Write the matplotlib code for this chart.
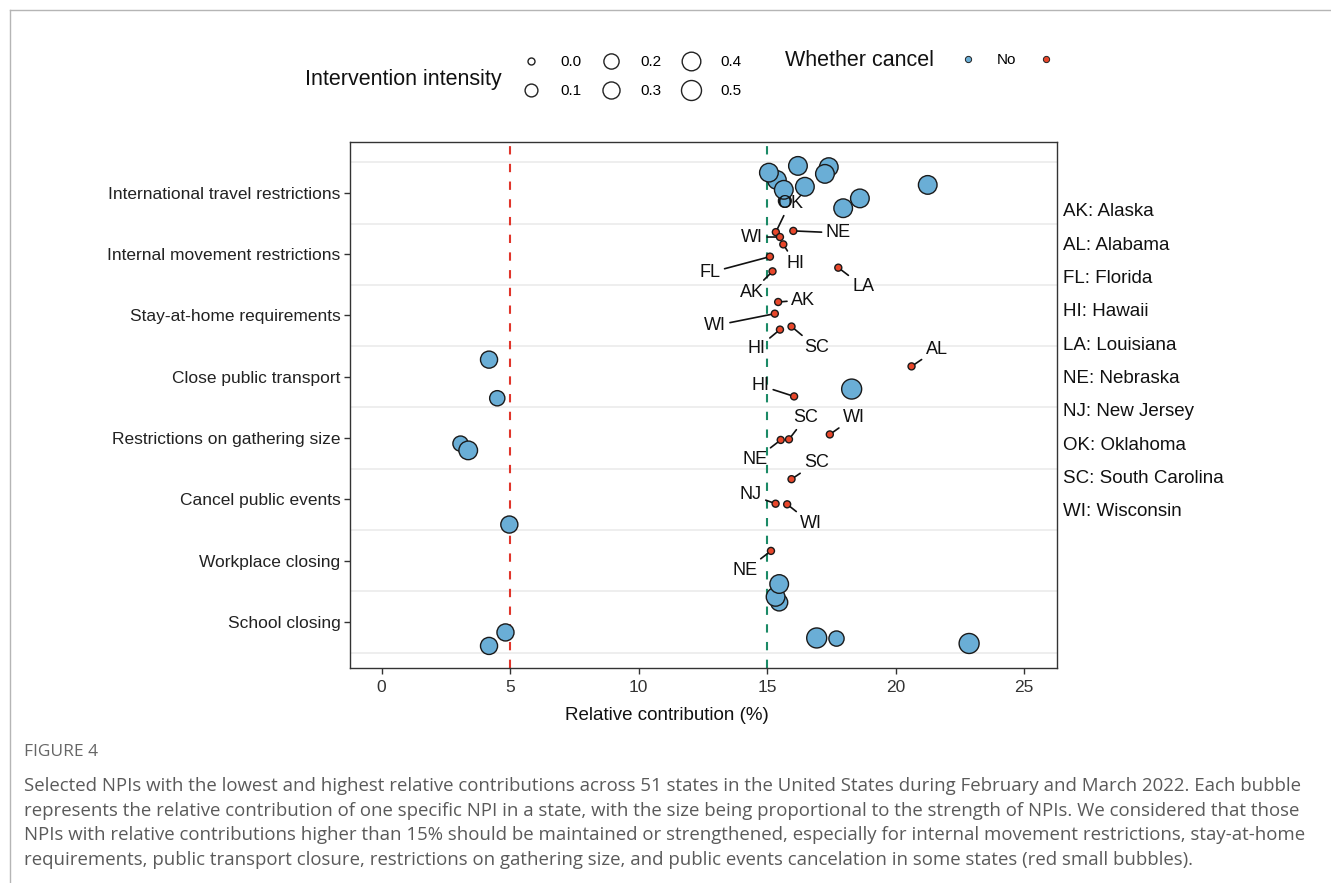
import numpy as np
import matplotlib.pyplot as plt
from matplotlib.lines import Line2D

plt.rcParams['font.family'] = ['Liberation Sans', 'DejaVu Sans']

npi_order = ["School closing", "Workplace closing", "Cancel public events",
             "Restrictions on gathering size", "Close public transport",
             "Stay-at-home requirements", "Internal movement restrictions",
             "International travel restrictions"]

# one bubble per state/NPI, drawn in this order
npi = (["International travel restrictions"] * 11 + ["Internal movement restrictions"] * 7
       + ["Stay-at-home requirements"] * 4 + ["Close public transport"] * 5
       + ["Restrictions on gathering size"] * 5 + ["Cancel public events"] * 4
       + ["Workplace closing"] * 1 + ["School closing"] * 8)
contrib = [15.38, 15.69, 15.07, 15.65, 16.20, 16.47, 17.40, 17.25, 18.61, 17.96, 21.25,
           15.34, 15.50, 15.63, 16.02, 15.11, 15.21, 17.77,
           15.43, 15.30, 15.50, 15.95,
           4.18, 4.50, 18.29, 20.62, 16.05,
           3.07, 3.37, 15.53, 15.85, 17.44,
           4.97, 15.95, 15.33, 15.78,
           15.15,
           15.47, 15.33, 15.47, 16.93, 17.70, 22.86, 4.82, 4.18]
jitter = [0.21, -0.13, 0.33, 0.05, 0.44, 0.10, 0.42, 0.31, -0.09, -0.25, 0.13,
          0.36, 0.28, 0.16, 0.38, -0.04, -0.28, -0.22,
          0.22, 0.03, -0.23, -0.18,
          0.28, -0.35, -0.20, 0.17, -0.32,
          -0.09, -0.20, -0.03, -0.02, 0.06,
          -0.41, 0.33, -0.07, -0.08,
          0.16,
          0.32, 0.41, 0.62, -0.26, -0.27, -0.35, -0.17, -0.39]
intensity = [0.4, 0.1, 0.4, 0.4, 0.4, 0.4, 0.4, 0.4, 0.4, 0.4, 0.4,
             0.0, 0.0, 0.0, 0.0, 0.0, 0.0, 0.0,
             0.0, 0.0, 0.0, 0.0,
             0.3, 0.2, 0.5, 0.0, 0.0,
             0.2, 0.4, 0.0, 0.0, 0.0,
             0.3, 0.0, 0.0, 0.0,
             0.0,
             0.3, 0.4, 0.4, 0.5, 0.2, 0.5, 0.3, 0.3]
cancel = (["No"] * 11 + ["Yes"] * 7 + ["Yes"] * 4 + ["No"] * 3 + ["Yes"] * 2
          + ["No"] * 2 + ["Yes"] * 3 + ["No"] + ["Yes"] * 3 + ["Yes"] + ["No"] * 8)
state = ([""] * 11 + ["OK", "WI", "HI", "NE", "FL", "AK", "LA"]
         + ["AK", "WI", "HI", "SC"] + ["", "", "", "AL", "HI"]
         + ["", "", "NE", "SC", "WI"] + ["", "SC", "NJ", "WI"]
         + ["NE"] + [""] * 8)
# where each state label sits relative to its bubble (pixels)
label_offsets = [(14, 29), (-28, 0), (12, -19), (45, -2), (-60, -16), (-21, -21), (25, -19),
                 (25, 2), (-60, -12), (-23, -19), (25, -21),
                 (25, 17), (-34, 11),
                 (-26, -20), (17, 22), (24, 17),
                 (25, 17), (-25, 9), (24, -19),
                 (-26, -20)]

state_names = ["AK: Alaska", "AL: Alabama", "FL: Florida", "HI: Hawaii", "LA: Louisiana",
               "NE: Nebraska", "NJ: New Jersey", "OK: Oklahoma", "SC: South Carolina",
               "WI: Wisconsin"]
size_levels = [0.0, 0.1, 0.2, 0.3, 0.4, 0.5]
colors = {"No": "#6aaed6", "Yes": "#e8472b"}

caption_lines = [
    "Selected NPIs with the lowest and highest relative contributions across 51 states in the United States during February and March 2022. Each bubble",
    "represents the relative contribution of one specific NPI in a state, with the size being proportional to the strength of NPIs. We considered that those",
    "NPIs with relative contributions higher than 15% should be maintained or strengthened, especially for internal movement restrictions, stay-at-home",
    "requirements, public transport closure, restrictions on gathering size, and public events cancelation in some states (red small bubbles).",
]


def diam_pt(v):
    # area-style size scale: ~8 px at 0, 21 px at 0.5 (minus the edge)
    d_px = 8 + 13 * np.sqrt(v / 0.5)
    return (d_px - 1) * 0.72


W, H = 1331, 883
fig = plt.figure(figsize=(W / 100, H / 100), dpi=100)
ax = fig.add_axes([350 / W, 1 - 668 / H, 707 / W, 526 / H])

ypos = np.array([npi_order.index(n) + 1 for n in npi]) + np.array(jitter)
sizes = [diam_pt(v) ** 2 for v in intensity]
ax.scatter(contrib, ypos, s=sizes, c=[colors[c] for c in cancel],
           edgecolors="#1a1a1a", linewidths=1.0, zorder=3)

k = 0
for i, lab in enumerate(state):
    if not lab:
        continue
    dx, dy = label_offsets[k]
    k += 1
    ax.annotate(lab, (contrib[i], ypos[i]), xytext=(dx, dy), textcoords="offset pixels",
                ha="center", va="center", fontsize=13, color="#111111", zorder=4,
                arrowprops=dict(arrowstyle="-", color="#111111", lw=1.2,
                                shrinkA=1, shrinkB=2.8))

for g in np.arange(0.5, 9, 1):
    ax.axhline(g, color="#ebebeb", lw=1.2, zorder=0)
ax.axvline(5, color="#e0352b", lw=1.5, ls=(0, (4, 4.5)), zorder=1)
ax.axvline(15, color="#1b8a66", lw=1.5, ls=(0, (4, 4.5)), zorder=1)

ax.set_xlim(-1.23, 26.28)
ax.set_ylim(0.25, 8.83)
ax.set_xticks([0, 5, 10, 15, 20, 25])
ax.set_yticks(range(1, 9))
ax.set_yticklabels(npi_order)
ax.tick_params(length=4, width=1, color="#333333", labelsize=12.5, labelcolor="#222222", pad=3)
ax.tick_params(axis="x", labelsize=12.5, labelcolor="#333333", pad=5)
for sp in ax.spines.values():
    sp.set_color("#333333")
    sp.set_linewidth(1)
ax.set_xlabel("Relative contribution (%)", fontsize=13.5, color="#111111")
ax.xaxis.set_label_coords((667 - 350) / 707, -(716 - 668) / 526)
ax.xaxis.label.set_va("center")

# size legend
size_handles = [Line2D([], [], ls="", marker="o", ms=diam_pt(v), mfc="white",
                       mec="#222222", mew=1.0) for v in size_levels]
fig.legend(size_handles, [f"{v:.1f}" for v in size_levels], ncol=3, loc="center left",
           bbox_to_anchor=(520.5 / W, 1 - 76.5 / H), frameon=False, fontsize=11,
           handlelength=1.4, handletextpad=1.2, columnspacing=1.25, labelspacing=1.0,
           borderpad=0, borderaxespad=0)
fig.text(305 / W, 1 - 80 / H, "Intervention intensity", fontsize=15.5, va="center",
         color="#111111")

# colour legend
col_handles = [Line2D([], [], ls="", marker="o", ms=4.5, mfc=colors[c], mec="#222222",
                      mew=0.7) for c in ["No", "Yes"]]
fig.legend(col_handles, ["No", ""], ncol=2, loc="center left",
           bbox_to_anchor=(957.3 / W, 1 - 60 / H), frameon=False, fontsize=11,
           handlelength=1.4, handletextpad=1.2, columnspacing=1.23,
           borderpad=0, borderaxespad=0)
fig.text(785 / W, 1 - 60 / H, "Whether cancel", fontsize=15.5, va="center", color="#111111")

for j, name in enumerate(state_names):
    fig.text(1063 / W, 1 - (212 + 33.3 * j) / H, name, fontsize=13.5, va="center",
             color="#111111")

fig.text(24 / W, 1 - 752 / H, "FIGURE 4", fontsize=12.5, va="center", color="#666666",
         family=["Open Sans", "DejaVu Sans"])
for j, line in enumerate(caption_lines):
    fig.text(24 / W, 1 - (786 + 24.7 * j) / H, line, fontsize=13.4, va="center",
             color="#5a5a5a", family=["Open Sans", "DejaVu Sans"])

fig.add_artist(Line2D([10 / W, 1], [1 - 10 / H, 1 - 10 / H], transform=fig.transFigure,
                      color="#b5b5b5", lw=1))
fig.add_artist(Line2D([10 / W, 10 / W], [1 - 10 / H, 0], transform=fig.transFigure,
                      color="#b5b5b5", lw=1))

fig.savefig("out.png", dpi=100)
